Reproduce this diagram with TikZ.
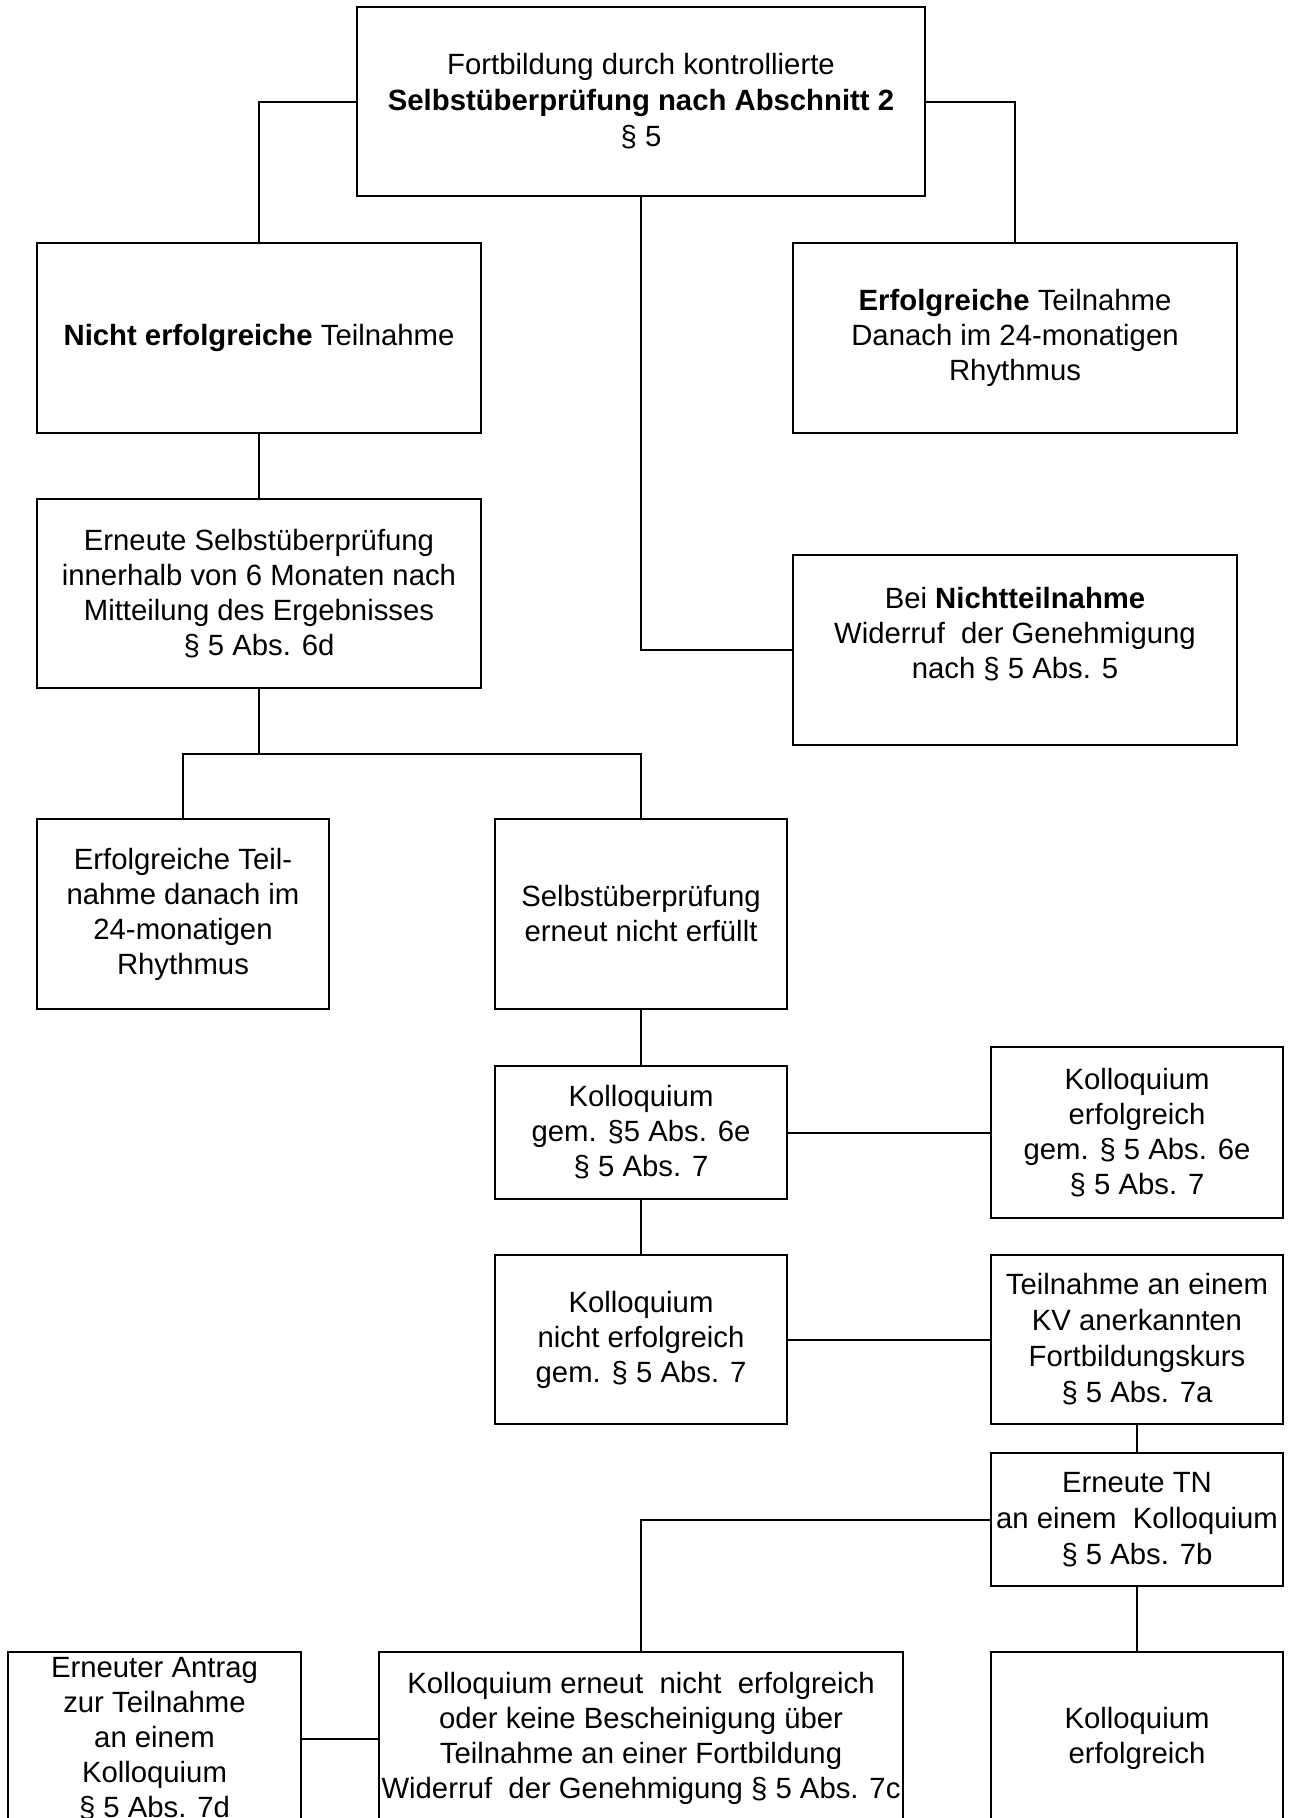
\documentclass[tikz,border=0pt]{standalone}
\usepackage{fontspec}
\setmainfont{Liberation Sans}
\begin{document}
\begin{tikzpicture}[x=1pt,y=-1pt,
  box/.style={draw, line width=2pt, rectangle, inner sep=0pt, align=center,
    font=\fontsize{29.3}{35}\selectfont},
  wide/.style={font=\fontsize{29.3}{36}\selectfont},
  conn/.style={line width=2pt}]
\useasboundingbox (0,0) rectangle (1289,1818);
\clip (0,0) rectangle (1289,1818);

\node[box, wide, minimum width=568, minimum height=189] (top) at (641,101.5)
  {Fortbildung durch kontrollierte\\\textbf{Selbstüberprüfung nach Abschnitt 2}\\§ 5};
\node[box, minimum width=444, minimum height=190] (nicht) at (259,338)
  {\textbf{Nicht erfolgreiche} Teilnahme};
\node[box, minimum width=444, minimum height=190] (erf) at (1015,338)
  {\textbf{Erfolgreiche} Teilnahme\\Danach im 24-monatigen\\Rhythmus};
\node[box, minimum width=444, minimum height=189] (erneute) at (259,593.5)
  {Erneute Selbstüberprüfung\\innerhalb von 6 Monaten nach\\Mitteilung des Ergebnisses\\§ 5 Abs. 6d};
\node[box, minimum width=444, minimum height=190] (bei) at (1015,650)
  {Bei \textbf{Nichtteilnahme}\\Widerruf\ \ der Genehmigung\\nach § 5 Abs. 5\\\mbox{}};
\node[box, minimum width=292, minimum height=190] (eteil) at (183,914)
  {Erfolgreiche Teil-\\nahme danach im\\24-monatigen\\Rhythmus};
\node[box, minimum width=292, minimum height=190] (selbst) at (641,914)
  {Selbstüberprüfung\\erneut nicht erfüllt};
\node[box, minimum width=292, minimum height=133] (koll1) at (641,1132.5)
  {Kolloquium\\gem. §5 Abs. 6e\\§ 5 Abs. 7};
\node[box, minimum width=292, minimum height=171] (kollerf) at (1137,1132.5)
  {Kolloquium\\erfolgreich\\gem. § 5 Abs. 6e\\§ 5 Abs. 7};
\node[box, minimum width=292, minimum height=169] (kollnicht) at (641,1339.5)
  {Kolloquium\\nicht erfolgreich\\gem. § 5 Abs. 7};
\node[box, wide, minimum width=292, minimum height=169] (kv) at (1137,1339.5)
  {Teilnahme an einem\\KV anerkannten\\Fortbildungskurs\\§ 5 Abs. 7a};
\node[box, wide, minimum width=292, minimum height=133] (ertn) at (1137,1519.5)
  {Erneute TN\\an einem\ \ Kolloquium\\§ 5 Abs. 7b};
\node[box, minimum width=293, minimum height=173] (antrag) at (154.5,1738.5)
  {Erneuter Antrag\\zur Teilnahme\\an einem\\Kolloquium\\§ 5 Abs. 7d};
\node[box, minimum width=524, minimum height=173] (kerneut) at (641,1738.5)
  {Kolloquium erneut\ \ nicht\ \ erfolgreich\\oder keine Bescheinigung über\\Teilnahme an einer Fortbildung\\Widerruf\ \ der Genehmigung § 5 Abs. 7c};
\node[box, minimum width=292, minimum height=173] (kollerf2) at (1137,1738.5)
  {Kolloquium\\erfolgreich};

\coordinate (j1) at (259,753.5);
\draw[conn] (top.west) -| (nicht.north);
\draw[conn] (top.east) -| (erf.north);
\draw[conn] (top.south) |- (bei.west);
\draw[conn] (nicht.south) -- (erneute.north);
\draw[conn] (erneute.south) -- (j1);
\draw[conn] (eteil.north) |- (j1) -| (selbst.north);
\draw[conn] (selbst.south) -- (koll1.north);
\draw[conn] (koll1.east) -- (kollerf.west);
\draw[conn] (koll1.south) -- (kollnicht.north);
\draw[conn] (kollnicht.east) -- (kv.west);
\draw[conn] (kv.south) -- (ertn.north);
\draw[conn] (ertn.west) -| (kerneut.north);
\draw[conn] (ertn.south) -- (kollerf2.north);
\draw[conn] (antrag.east) -- (kerneut.west);
\end{tikzpicture}
\end{document}
